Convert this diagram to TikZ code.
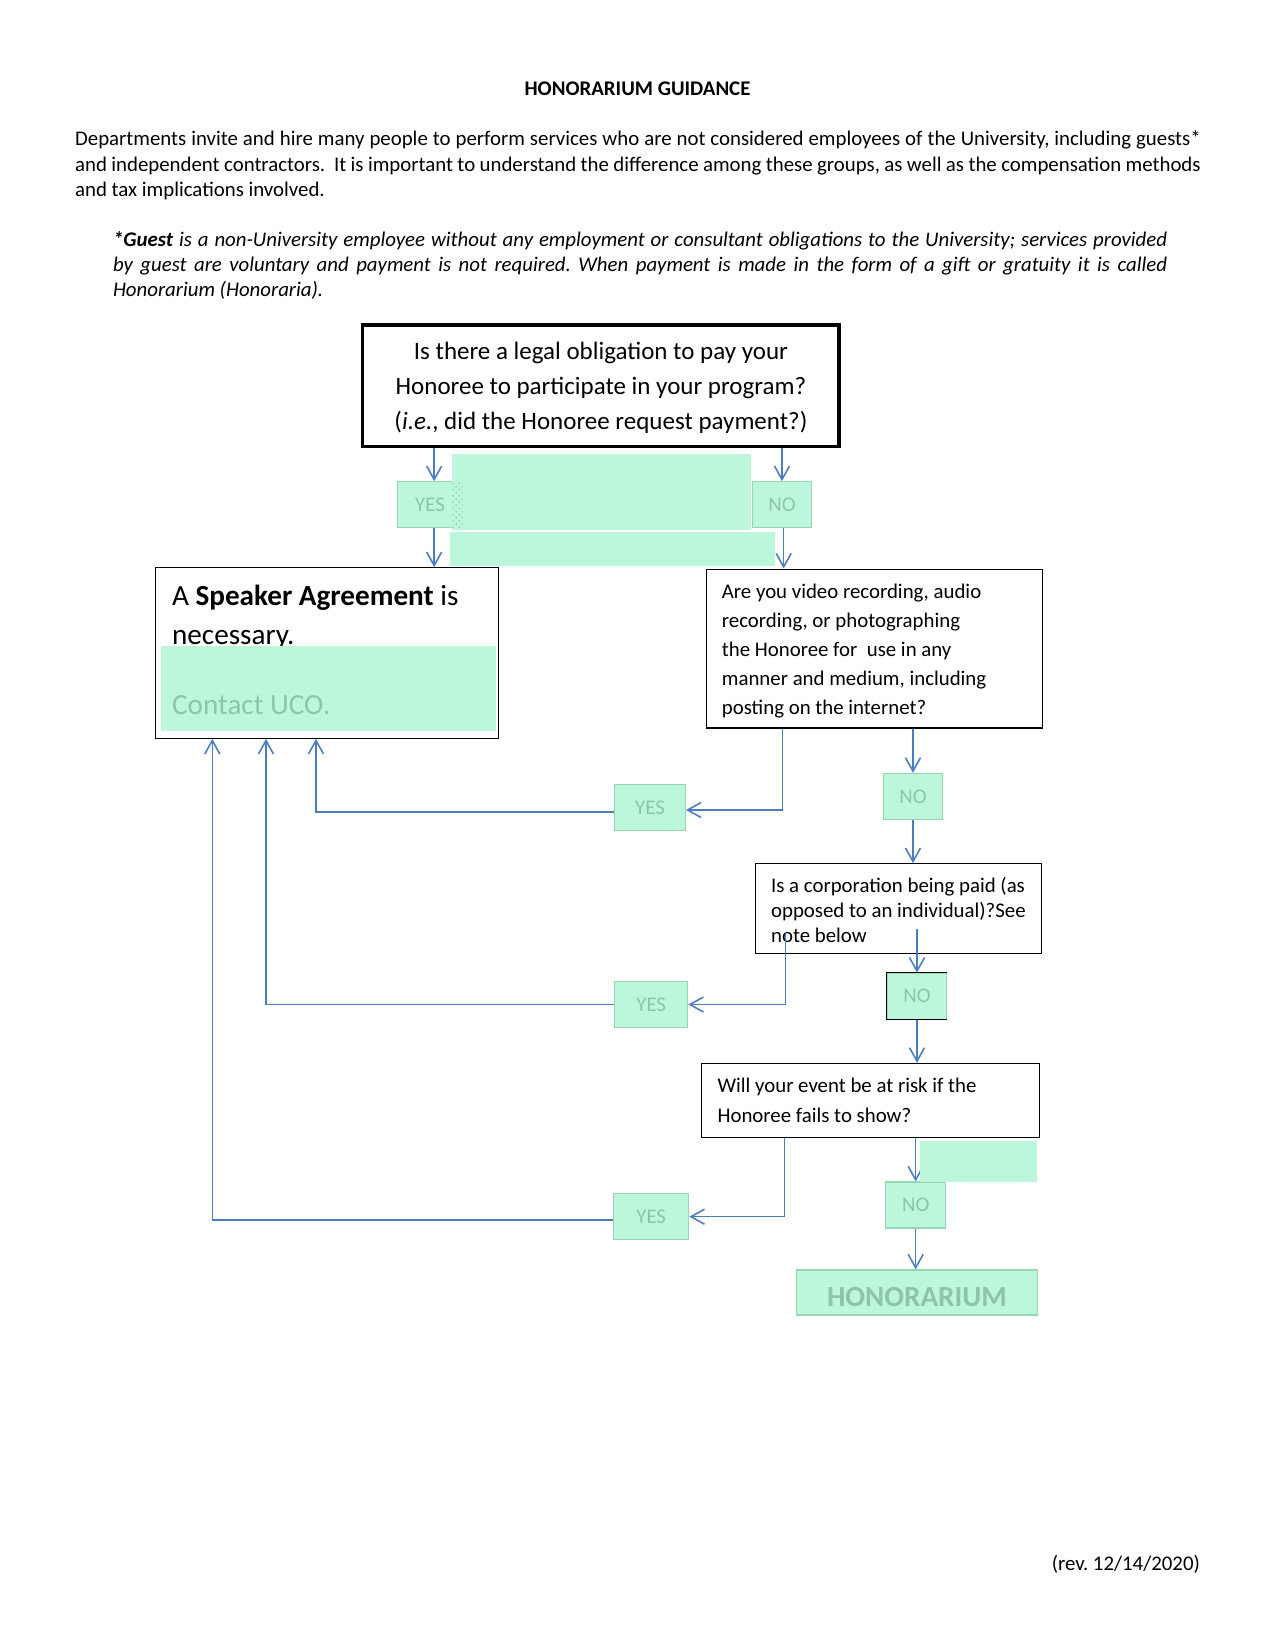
\documentclass[tikz,border=0pt]{standalone}
\usepackage{fontspec}
\setmainfont{Carlito}
\usetikzlibrary{arrows.meta, patterns}
\definecolor{mint}{RGB}{189, 247, 219}
\definecolor{mintline}{RGB}{150, 214, 178}
\definecolor{minttext}{RGB}{143, 196, 166}
\definecolor{flowblue}{RGB}{74, 126, 193}
\frenchspacing

\begin{document}
\begin{tikzpicture}[x=0.48pt, y=-0.48pt,
  box/.style={draw, line width=0.5pt, inner xsep=7.6pt, inner ysep=0pt, align=flush left},
  answer/.style={draw=mintline, fill=mint, text=minttext, line width=0.6pt,
    inner sep=0pt, minimum height=22pt, font=\fontsize{10}{12}\selectfont},
  flow/.style={->, >={Straight Barb[length=6.5pt, width=7.2pt]}, line width=0.75pt, color=flowblue}
]
  \useasboundingbox (0,0) rectangle (1275,1649);

  % heading and notes
  \node[anchor=base, font=\fontsize{10}{12}\selectfont\bfseries] (title) at (637.5,95) {HONORARIUM GUIDANCE};
  \node[anchor=base west, inner sep=0, text width=540.3pt, align=justify, font=\fontsize{10}{12.24}\selectfont] (intro) at (74.7,145.5)
    {Departments invite and hire many people to perform services who are not considered employees of the University, including guests*\linebreak
     and independent contractors.~ It is important to understand the difference among these groups, as well as the compensation methods\linebreak
     and tax implications involved.};
  \node[anchor=base west, inner sep=0, text width=506pt, align=justify, font=\fontsize{10}{12}\selectfont\itshape] (guest) at (112.6,246)
    {\textbf{*Guest} is a non-University employee without any employment or consultant obligations to the University; services provided\linebreak
     by guest are voluntary and payment is not required. When payment is made in the form of a gift or gratuity it is called\linebreak
     Honorarium (Honoraria).};

  % questions
  \node[box, line width=1.6pt, align=center, minimum width=228.6pt, minimum height=58.4pt, font=\fontsize{12}{16.8}\selectfont] (legal) at (600.9,385.9)
    {\rule{0pt}{10.3pt}Is there a legal obligation to pay your\\Honoree to participate in your program?\\(\textit{i.e.}, did the Honoree request payment?)};
  \node[box, minimum width=164.6pt, minimum height=81.9pt] (speaker) at (327.2,653) {};
  \node[anchor=base west, inner sep=0, text width=160pt, align=flush left, font=\fontsize{14}{18.7}\selectfont] (speakertext) at (171.7,605.5)
    {A \textbf{Speaker Agreement} is\\necessary.};
  \node[box, text width=146.3pt, minimum width=161.5pt, minimum height=76.3pt, font=\fontsize{10}{14}\selectfont] (video) at (874.3,648.5)
    {\rule{0pt}{9.3pt}Are you video recording, audio\\recording, or photographing\\the Honoree for~ use in any\\manner and medium, including\\posting on the internet?};
  \node[box, text width=122.2pt, minimum width=137.4pt, minimum height=43pt, font=\fontsize{10}{12}\selectfont] (corp) at (898.4,908.4)
    {\rule{0pt}{9.2pt}\mbox{Is a corporation being paid (as}\\\mbox{opposed to an individual)?See}\\note below};
  \node[box, text width=146.7pt, minimum width=161.9pt, minimum height=35.7pt, font=\fontsize{10}{14.1}\selectfont] (risk) at (870.4,1100.5)
    {Will your event be at risk if the\\Honoree fails to show?};

  % answers
  \node[answer, minimum width=31.4pt] (yes1) at (430,504.7) {YES};
  \node[answer, minimum width=28.5pt] (no1) at (782,504.7) {NO};
  \node[answer, minimum width=33.9pt] (yes2) at (650,807.5) {YES};
  \node[answer, minimum width=28.5pt] (no2) at (913,796.3) {NO};
  \node[answer, minimum width=35pt] (yes3) at (651.2,1004.5) {YES};
  \node[answer, minimum width=28.5pt] (no3) at (917,996.2) {NO};
  \draw[line width=0.6pt] (no3.north east) -- (no3.north west) -- (no3.south west) -- (no3.south east);
  \node[answer, minimum width=36pt] (yes4) at (651.2,1216.7) {YES};
  \node[answer, minimum width=28.8pt] (no4) at (915.7,1205) {NO};
  \node[answer, minimum width=115.5pt, minimum height=21.6pt, text height=13.6pt, text depth=0pt,
    font=\fontsize{14}{16}\selectfont\bfseries] (hon) at (917,1292.5) {HONORARIUM};

  \coordinate (corpyes) at (785.3,932.3);
  \coordinate (corpno) at (917,929);

  % connectors
  \draw[flow] ([xshift=2pt]legal.south -| yes1.north) -- ([xshift=2pt]yes1.north);
  \draw[flow] (legal.south -| no1.north) -- (no1.north);
  \draw[flow] ([xshift=2pt]yes1.south) -- ([xshift=2pt]yes1.south |- speaker.north);
  \draw[flow] ([xshift=0.8pt]no1.south) -- ([xshift=0.8pt]no1.south |- video.north);
  \draw[flow] (782.3,0 |- video.south) |- ([yshift=-1.2pt]yes2.east);
  \draw[flow] (no2.north |- video.south) -- (no2.north);
  \draw[flow] (no2.south) -- (no2.south |- corp.north);
  \draw[flow] (corpyes) |- (yes3.east);
  \draw[flow] (corpno) -- (no3.north);
  \draw[flow] (no3.south) -- (no3.south |- risk.north);
  \draw[flow] (784.7,0 |- risk.south) |- (yes4.east);
  \draw[flow] (no4.north |- risk.south) -- (no4.north);
  \draw[flow] (no4.south) -- (no4.south |- hon.north);
  \draw[flow] ([yshift=-2.2pt]yes2.west) -| (316,0 |- speaker.south);
  \draw[flow] (yes3.west) -| (266,0 |- speaker.south);
  \draw[flow] ([yshift=-1.5pt]yes4.west) -| (212.3,0 |- speaker.south);

  % blank green patches
  \fill[mint] (451.7,454) rectangle (751,530);
  \fill[mint] (450,532.3) rectangle (775,565.7);
  \fill[mint] (161,646) rectangle (495.5,730.7);
  \fill[mint] (920,1141) rectangle (1036.7,1181.7);
  \fill[pattern=crosshatch dots, pattern color=mintline] (452.7,481.7) rectangle (462.7,527.7);

  \node[anchor=base west, inner sep=0, text=minttext, font=\fontsize{14}{16}\selectfont] (contact) at (171.7,714.3) {Contact UCO.};
  \node[anchor=base east, inner sep=0, font=\fontsize{10}{12}\selectfont] (rev) at (1200.3,1570) {(rev. 12/14/2020)};
\end{tikzpicture}
\end{document}
